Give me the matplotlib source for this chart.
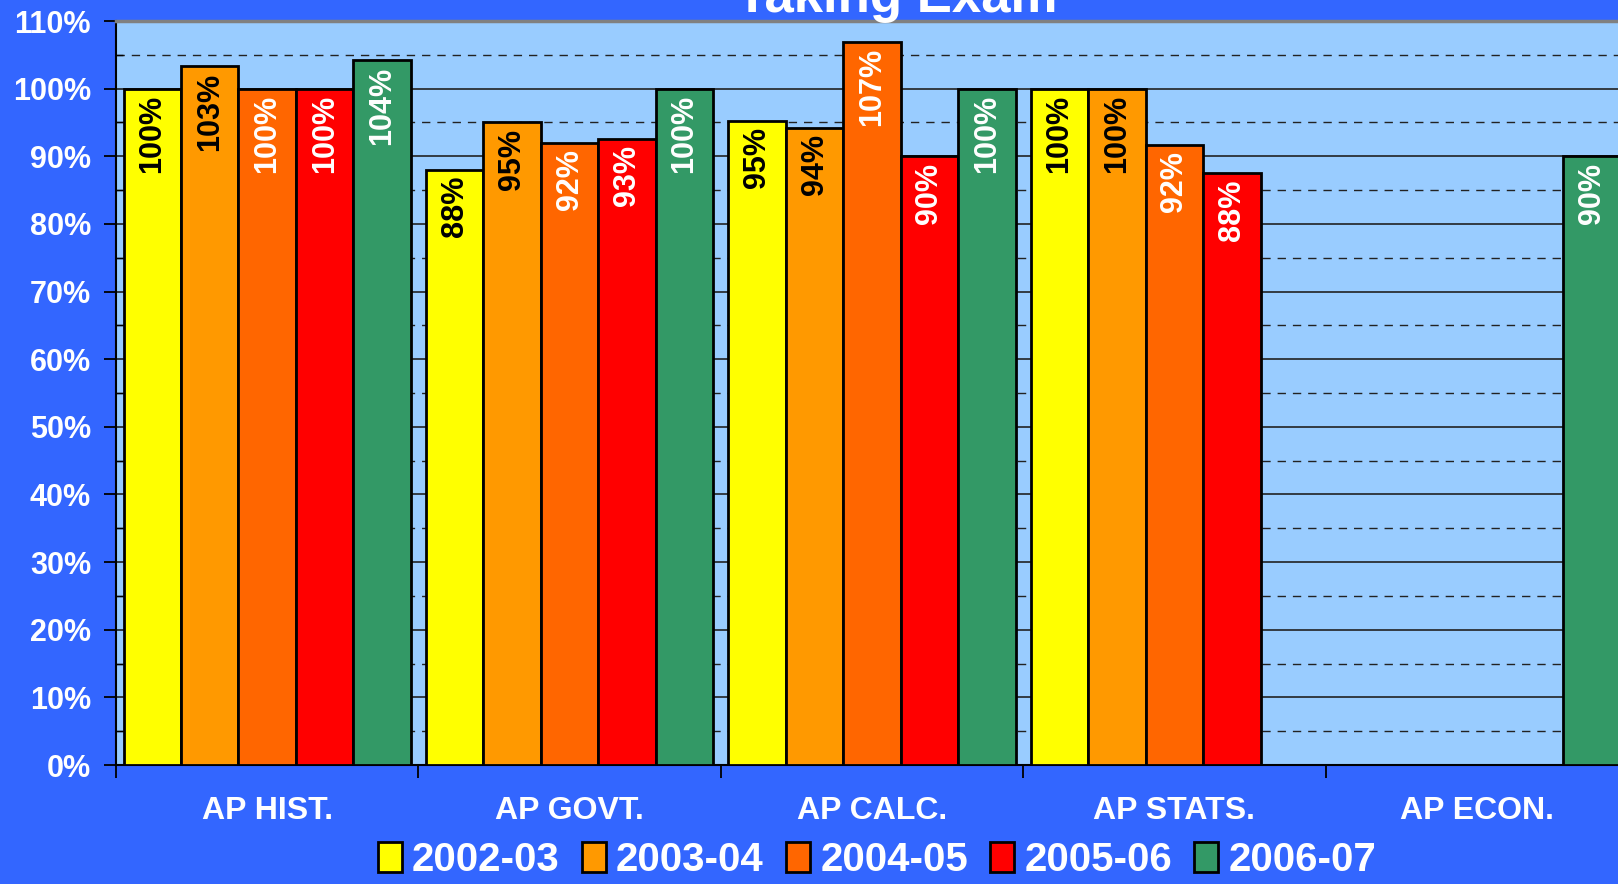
import numpy as np
import matplotlib
matplotlib.use('Agg')
import matplotlib.pyplot as plt
from matplotlib.ticker import MultipleLocator, FixedLocator

plt.rcParams['font.family'] = ['Liberation Sans', 'DejaVu Sans']
plt.rcParams['font.weight'] = 'bold'

# data
courses = ['AP HIST.', 'AP GOVT.', 'AP CALC.', 'AP STATS.', 'AP ECON.']
years = ['2002-03', '2003-04', '2004-05', '2005-06', '2006-07']
y2002 = [100.0, 88.0, 95.2, 100.0, np.nan]
y2003 = [103.3, 95.0, 94.2, 100.0, np.nan]
y2004 = [100.0, 92.0, 106.9, 91.7, np.nan]
y2005 = [100.0, 92.6, 90.0, 87.5, np.nan]
y2006 = [104.2, 100.0, 100.0, np.nan, 90.0]
series = [y2002, y2003, y2004, y2005, y2006]

colors = ['#FFFF00', '#FF9900', '#FF6600', '#FF0000', '#339966']
label_colors = ['black', 'black', 'white', 'white', 'white']

BG = '#3366FF'
PLOT_BG = '#99CCFF'

fig = plt.figure(figsize=(16.18, 8.84), dpi=100, facecolor=BG)
# plot area runs past the right edge, as in the original slide
ax = fig.add_axes([0.0717, 0.1346, 0.9345, 0.8416])
ax.set_facecolor(PLOT_BG)

x = np.arange(len(courses))
w = 0.19
for i, vals in enumerate(series):
    pos = x + (i - 2) * w
    ax.bar(pos, vals, width=w, color=colors[i], edgecolor='black',
           linewidth=2.0, label=years[i], zorder=3)
    for xp, v in zip(pos, vals):
        if np.isnan(v):
            continue
        ax.annotate(f'{v:.0f}%', xy=(xp, v), xytext=(0, -4.5),
                    textcoords='offset points', rotation=90,
                    ha='center', va='top', fontsize=22, fontweight='bold',
                    color=label_colors[i], zorder=4)

ax.set_xlim(-0.5, len(courses) - 0.5)
ax.set_ylim(0, 110)

# y axis: major every 10 (solid grid), minor every 5 (dashed grid)
ax.yaxis.set_major_locator(MultipleLocator(10))
ax.yaxis.set_minor_locator(MultipleLocator(5))
ax.set_yticklabels([f'{int(t)}%' for t in ax.get_yticks()])
ax.grid(axis='y', which='major', color='#222222', linewidth=1.2, zorder=1)
ax.grid(axis='y', which='minor', color='#222222', linewidth=1.0,
        linestyle=(0, (6, 5)), zorder=1)
ax.tick_params(axis='y', which='major', direction='out', length=9, width=1.3,
               labelsize=22, labelcolor='white', pad=9)
ax.tick_params(axis='y', which='minor', direction='in', length=5, width=1.0)

# x axis: tick marks between groups, labels at group centres
ax.xaxis.set_major_locator(FixedLocator(np.arange(len(courses) + 1) - 0.5))
ax.xaxis.set_minor_locator(FixedLocator(x))
ax.set_xticklabels([''] * (len(courses) + 1))
ax.set_xticklabels(courses, minor=True)
ax.tick_params(axis='x', which='major', direction='out', length=9, width=1.3)
ax.tick_params(axis='x', which='minor', length=0, labelsize=23,
               labelcolor='white', pad=22)

for s in ['left', 'bottom']:
    ax.spines[s].set_color('black')
    ax.spines[s].set_linewidth(1.5)
ax.spines['top'].set_color('#808080')
ax.spines['top'].set_linewidth(2.5)
ax.spines['right'].set_visible(False)

fig.text(0.5545, 0.9864, 'Taking Exam', ha='center', va='baseline',
         fontsize=38, fontweight='bold', color='white')

leg = fig.legend(loc='center', bbox_to_anchor=(0.542, 1 - 860 / 884),
                 ncol=5, frameon=False, fontsize=29,
                 handlelength=0.6, handleheight=0.75, handletextpad=0.25,
                 columnspacing=0.55, borderaxespad=0, borderpad=0)
for t in leg.get_texts():
    t.set_color('white')
    t.set_fontweight('bold')

fig.savefig('out.png', dpi=100, facecolor=BG)
